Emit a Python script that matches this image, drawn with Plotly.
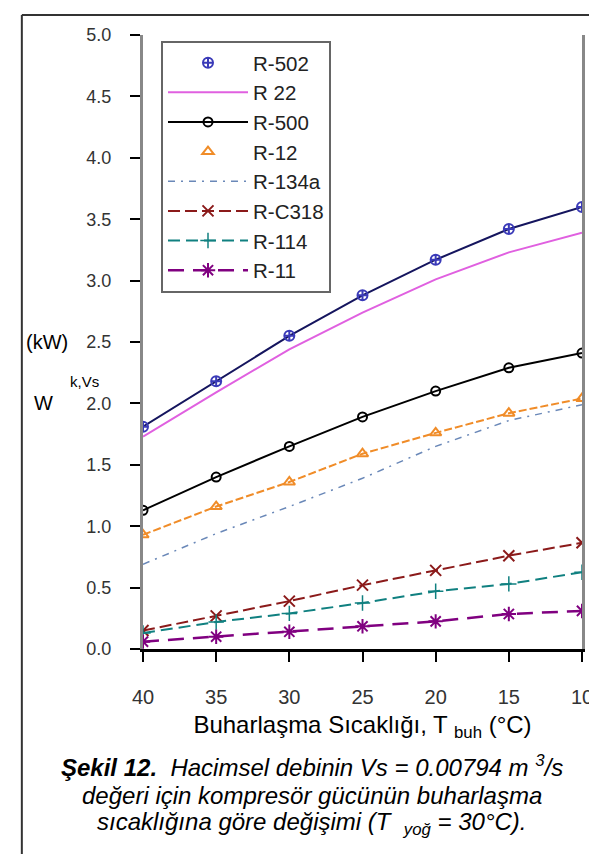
import plotly.graph_objects as go

# ---- data ----
temps = [-40, -35, -30, -25, -20, -15, -10]
tick_text = ["40", "35", "30", "25", "20", "15", "10"]

r502 = [1.81, 2.18, 2.55, 2.88, 3.17, 3.42, 3.60]
r22 = [1.73, 2.09, 2.44, 2.74, 3.01, 3.23, 3.39]
r500 = [1.13, 1.40, 1.65, 1.89, 2.10, 2.29, 2.41]
r12 = [0.93, 1.16, 1.36, 1.59, 1.76, 1.92, 2.04]
r134a = [0.69, 0.94, 1.16, 1.39, 1.65, 1.86, 1.99]
rc318 = [0.15, 0.27, 0.39, 0.52, 0.64, 0.76, 0.865]
r114 = [0.13, 0.22, 0.29, 0.375, 0.47, 0.53, 0.625]
r11 = [0.06, 0.10, 0.14, 0.185, 0.225, 0.285, 0.31]

FONT = "Liberation Sans, Arial, sans-serif"

fig = go.Figure()

# R-502: line without legend + markers with legend
fig.add_trace(go.Scatter(x=temps, y=r502, mode="lines", line=dict(color="#15155e", width=2),
                         showlegend=False, hoverinfo="skip"))
fig.add_trace(go.Scatter(x=temps, y=r502, mode="markers", name="R-502",
                         marker=dict(symbol="circle-cross-open", size=10, color="#3a3ab8",
                                     line=dict(width=2, color="#3a3ab8"))))
# R-22
fig.add_trace(go.Scatter(x=temps, y=r22, mode="lines", name="R 22",
                         line=dict(color="#e060e0", width=2)))
# R-500
fig.add_trace(go.Scatter(x=temps, y=r500, mode="lines+markers", name="R-500",
                         line=dict(color="#000000", width=2),
                         marker=dict(symbol="circle-open", size=9, color="#000000",
                                     line=dict(width=2, color="#000000"))))
# R-12 line without legend + markers with legend
fig.add_trace(go.Scatter(x=temps, y=r12, mode="lines", line=dict(color="#f08c28", width=2, dash="8px,3px"),
                         showlegend=False, hoverinfo="skip"))
fig.add_trace(go.Scatter(x=temps, y=r12, mode="markers", name="R-12",
                         marker=dict(symbol="triangle-up-open", size=10, color="#f08c28",
                                     line=dict(width=2, color="#f08c28"))))
# R-134a
fig.add_trace(go.Scatter(x=temps, y=r134a, mode="lines", name="R-134a",
                         line=dict(color="#6a88b8", width=1.5, dash="7px,6px,2px,6px")))
# R-C318
fig.add_trace(go.Scatter(x=temps, y=rc318, mode="lines+markers", name="R-C318",
                         line=dict(color="#8b1a1a", width=2, dash="12px,5px"),
                         marker=dict(symbol="x-thin-open", size=11, color="#8b1a1a",
                                     line=dict(width=2, color="#8b1a1a"))))
# R-114
fig.add_trace(go.Scatter(x=temps, y=r114, mode="lines+markers", name="R-114",
                         line=dict(color="#108080", width=2, dash="12px,6px"),
                         marker=dict(symbol="cross-thin-open", size=11, color="#108080",
                                     line=dict(width=1.5, color="#108080"))))
# R-11
fig.add_trace(go.Scatter(x=temps, y=r11, mode="lines+markers", name="R-11",
                         line=dict(color="#800080", width=2.5, dash="16px,9px"),
                         marker=dict(symbol="asterisk-open", size=12, color="#800080",
                                     line=dict(width=2, color="#800080"))))

fig.update_layout(
    width=597, height=854,
    margin=dict(l=135, r=20, t=27, b=213),
    paper_bgcolor="white", plot_bgcolor="white",
    font=dict(family=FONT, color="#000000"),
    showlegend=True,
    legend=dict(x=0.041, y=0.9905, xanchor="left", yanchor="top",
                bgcolor="white", bordercolor="#666666", borderwidth=2,
                font=dict(size=20.5, color="#222222", family=FONT),
                itemwidth=80, tracegroupgap=0),
    xaxis=dict(range=[-40, -10], tickvals=temps, ticktext=tick_text,
               showline=True, linecolor="#000000", linewidth=3,
               ticks="outside", ticklen=10, tickwidth=1.5, tickcolor="#000000",
               showgrid=False, zeroline=False, ticklabelstandoff=18,
               tickfont=dict(size=20, color="#333333", family=FONT),
               title=dict(text="Buharlaşma Sıcaklığı, T <sub>buh</sub> (°C)",
                          font=dict(size=24, color="#000000", family=FONT), standoff=10)),
    yaxis=dict(range=[0, 5.0], dtick=0.5, tickformat=".1f",
               showline=True, linecolor="#888888", linewidth=3, mirror=True,
               ticks="outside", ticklen=10, tickwidth=2, tickcolor="#000000",
               showgrid=False, zeroline=False, ticklabelstandoff=15,
               tickfont=dict(size=18, color="#333333", family=FONT)),
)

# y-axis label pieces
fig.add_annotation(text="(kW)", x=-0.2715, y=0.50, xref="paper", yref="paper", xanchor="left",
                   showarrow=False, font=dict(size=20, family=FONT))
fig.add_annotation(text="k,Vs", x=-0.170, y=0.436, xref="paper", yref="paper", xanchor="left",
                   showarrow=False, font=dict(size=15, family=FONT))
fig.add_annotation(text="W", x=-0.2534, y=0.40, xref="paper", yref="paper", xanchor="left",
                   showarrow=False, font=dict(size=20, family=FONT))

# caption
cap_font = dict(size=24, family=FONT, color="#000000")
fig.add_annotation(text="<b><i>Şekil 12.</i></b><i>  Hacimsel debinin Vs = 0.00794 m <sup>3</sup>/s</i>",
                   x=0.385, y=-0.2182, xref="paper", yref="paper", showarrow=False, font=cap_font)
fig.add_annotation(text="<i>değeri için kompresör gücünün buharlaşma</i>",
                   x=0.385, y=-0.2638, xref="paper", yref="paper", showarrow=False, font=cap_font)
fig.add_annotation(text="<i>sıcaklığına göre değişimi (T  <sub>yoğ</sub> = 30°C).</i>",
                   x=0.385, y=-0.3127, xref="paper", yref="paper", showarrow=False, font=cap_font)

# outer frame
frame = dict(color="#333333", width=2)
fig.add_shape(type="line", xref="paper", yref="paper", x0=-0.276, x1=1.034, y0=1.0326, y1=1.0326, line=frame)
fig.add_shape(type="line", xref="paper", yref="paper", x0=-0.276, x1=-0.276, y0=1.0326, y1=-0.36, line=frame)
fig.add_shape(type="line", xref="paper", yref="paper", x0=1.034, x1=1.034, y0=1.0326, y1=-0.0798, line=frame)

fig.write_html("out.html")
